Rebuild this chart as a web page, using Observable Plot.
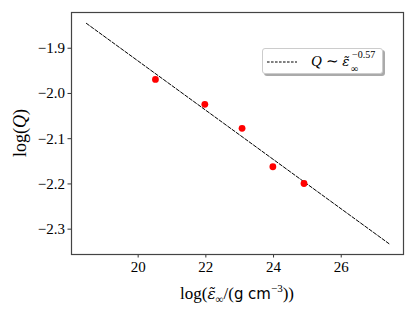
<!DOCTYPE html>
<html><head><meta charset="utf-8">
<script src="https://cdn.jsdelivr.net/npm/d3@7"></script>
<script src="https://cdn.jsdelivr.net/npm/@observablehq/plot@0.6"></script>
<style>
body{margin:0;background:#fff;}
#wrap{position:relative;width:415px;height:311px;font-family:"Liberation Serif",serif;}
.lab{position:absolute;white-space:nowrap;color:#000;}
.sf{font-family:"DejaVu Sans","Liberation Sans",sans-serif;font-size:0.88em;}
.eps{font-family:"DejaVu Serif",serif;font-style:italic;font-size:0.9em;}
#legend{position:absolute;left:262px;top:48px;width:121px;height:26px;border:1px solid #ccc;border-radius:3px;background:#fff;box-shadow:2px 2px 0 #aaa;box-sizing:border-box;}
</style></head>
<body><div id="wrap"></div>
<script>
const densX = [20.51, 21.97, 23.07, 23.98, 24.90];
const logQ = [-1.969, -2.024, -2.077, -2.162, -2.199];
const fitX = [18.47, 27.41];
const fitY = [-1.845, -2.332];
const xTicks = [20, 22, 24, 26];
const yTicks = [-2.3, -2.2, -2.1, -2.0, -1.9];

const pts = densX.map((x, i) => ({x, y: logQ[i]}));
const fit = fitX.map((x, i) => ({x, y: fitY[i]}));

const plot = Plot.plot({
  width: 415, height: 311,
  marginLeft: 71, marginRight: 12, marginTop: 12, marginBottom: 57,
  style: {fontFamily: "Liberation Serif, serif", fontSize: "15px", color: "#000", background: "#fff"},
  x: {domain: [18.03, 27.84]},
  y: {domain: [-2.356, -1.821]},
  marks: [
    Plot.axisX({ticks: xTicks, tickSize: 3.5, tickPadding: 3, tickFormat: d3.format("d"), label: null, stroke: "#333"}),
    Plot.axisY({ticks: yTicks, tickSize: 3.5, tickPadding: 3, tickFormat: d3.format(".1f"), label: null, stroke: "#333"}),
    Plot.line(fit, {x: "x", y: "y", stroke: "#000", strokeWidth: 1, strokeDasharray: "3.5,1.8"}),
    Plot.dot(pts, {x: "x", y: "y", r: 3.4, fill: "#ff0000", stroke: "none"}),
    Plot.frame({stroke: "#444", strokeWidth: 1.2})
  ]
});
const wrap = document.getElementById("wrap");
wrap.appendChild(plot);

function addLab(html, css) {
  const d = document.createElement("div");
  d.className = "lab";
  d.innerHTML = html;
  Object.assign(d.style, css);
  wrap.appendChild(d);
  return d;
}
const eps = '<span class="eps">ε̃</span>';
addLab('log(' + eps + '<sub style="font-size:0.65em">∞</sub>/(<span class="sf">g cm</span><sup style="font-size:0.65em">−3</sup>))',
  {left: "237px", top: "278px", transform: "translateX(-50%)", fontSize: "17px", lineHeight: "20px"});
addLab('log(<i>Q</i>)',
  {left: "20px", top: "133px", transform: "translate(-50%,-50%) rotate(-90deg)", fontSize: "18px", lineHeight: "20px"});

const lg = document.createElement("div");
lg.id = "legend";
lg.innerHTML = '<svg width="34" height="10" style="position:absolute;left:4px;top:8px"><line x1="0" y1="5" x2="30" y2="5" stroke="#000" stroke-width="1" stroke-dasharray="2.6,1.4"/></svg>' +
  '<span class="lab" style="left:48px;top:3px;font-size:15px;line-height:18px"><i>Q</i> ∼ ' + eps + '</span>' +
  '<span class="lab" style="left:89px;top:1px;font-size:10px;line-height:10px">−0.57</span>' +
  '<span class="lab" style="left:88px;top:15px;font-size:10px;line-height:10px">∞</span>';
wrap.appendChild(lg);
</script></body></html>
